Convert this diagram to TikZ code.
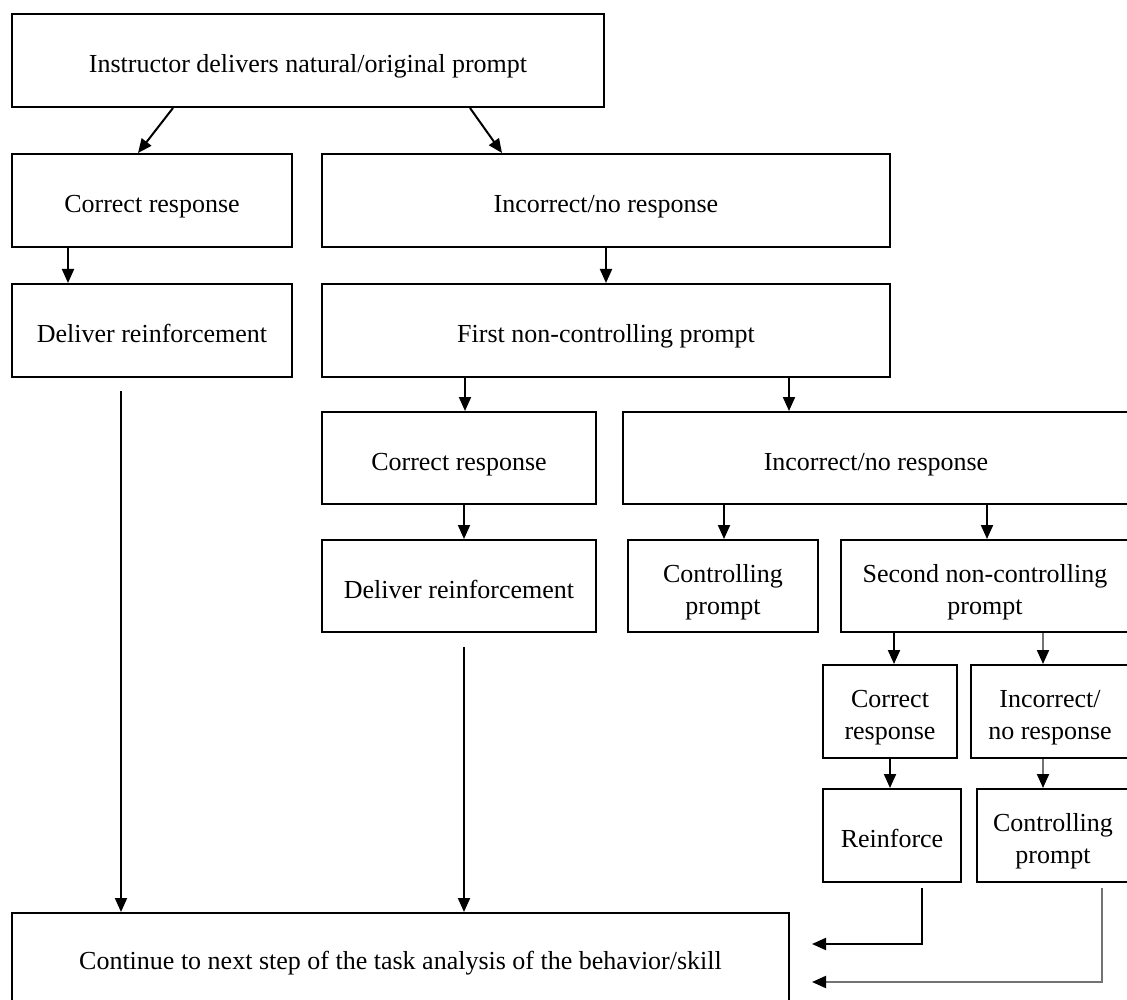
\documentclass[tikz,border=0pt]{standalone}
\usepackage{fontspec}
\setmainfont{Liberation Serif}
\usetikzlibrary{arrows.meta}
\newcommand{\bt}[1]{\raisebox{-6pt}[\height][\depth]{\begin{tabular}{@{}c@{}}#1\end{tabular}}}
\renewcommand{\arraystretch}{1}
\begin{document}
\begin{tikzpicture}[x=1pt,y=-1pt,
 box/.style={draw, line width=2pt, rectangle, inner sep=2pt, font=\fontsize{26}{32}\selectfont},
 arr/.style={line width=2pt, -{Triangle[length=14pt,width=12pt]}},
 garr/.style={line width=2pt, draw=black!55, -{Triangle[length=14pt,width=12pt,color=black]}},
]
\useasboundingbox (0,0) rectangle (1127,1000);
% level 1
\node[box, minimum width=592pt, minimum height=93pt] (top) at (308,60.5) {\bt{Instructor delivers natural/original prompt}};
% level 2
\node[box, minimum width=280pt, minimum height=93pt] (cr1) at (152,200.5) {\bt{Correct response}};
\node[box, minimum width=568pt, minimum height=93pt] (inc1) at (606,200.5) {\bt{Incorrect/no response}};
% level 3
\node[box, minimum width=280pt, minimum height=93pt] (dr1) at (152,330.5) {\bt{Deliver reinforcement}};
\node[box, minimum width=568pt, minimum height=93pt] (fnc) at (606,330.5) {\bt{First non-controlling prompt}};
% level 4
\node[box, minimum width=274pt, minimum height=92pt] (cr2) at (459,458) {\bt{Correct response}};
\node[box, minimum width=506pt, minimum height=92pt] (inc2) at (876,458) {\bt{Incorrect/no response}};
% level 5
\node[box, minimum width=274pt, minimum height=92pt] (dr2) at (459,586) {\bt{Deliver reinforcement}};
\node[box, minimum width=190pt, minimum height=92pt] (cp1) at (723,586) {\bt{Controlling\\prompt}};
\node[box, minimum width=288pt, minimum height=92pt] (snc) at (985,586) {\bt{Second non-controlling\\prompt}};
% level 6
\node[box, minimum width=134pt, minimum height=93pt] (cr3) at (890,711.5) {\bt{Correct\\response}};
\node[box, minimum width=158pt, minimum height=93pt] (inc3) at (1050,711.5) {\bt{Incorrect/\\no response}};
% level 7
\node[box, minimum width=138pt, minimum height=93pt] (rf) at (892,835.5) {\bt{Reinforce}};
\node[box, minimum width=152pt, minimum height=93pt] (cp2) at (1053,835.5) {\bt{Controlling\\prompt}};
% bottom
\node[box, minimum width=777pt, minimum height=88pt] (bot) at (400.5,957) {\bt{Continue to next step of the task analysis of the behavior/skill}};

% connectors
\draw[arr] ([xshift=-135pt]top.south) -- ([xshift=-14pt]cr1.north);
\draw[arr] ([xshift=162pt]top.south) -- ([xshift=-104pt]inc1.north);
\draw[arr] ([xshift=-84pt]cr1.south) -- ([xshift=-84pt]dr1.north);
\draw[arr] (inc1.south) -- (fnc.north);
\draw[arr] ([xshift=-141pt]fnc.south) -- ([xshift=6pt]cr2.north);
\draw[arr] ([xshift=183pt]fnc.south) -- ([xshift=-87pt]inc2.north);
\draw[arr] ([xshift=5pt]cr2.south) -- ([xshift=5pt]dr2.north);
\draw[arr] ([xshift=-152pt]inc2.south) -- ([xshift=1pt]cp1.north);
\draw[arr] ([xshift=111pt]inc2.south) -- ([xshift=2pt]snc.north);
\draw[arr] ([xshift=-91pt]snc.south) -- ([xshift=4pt]cr3.north);
\draw[garr] ([xshift=58pt]snc.south) -- ([xshift=-7pt]inc3.north);
\draw[arr] (cr3.south) -- ([xshift=-2pt]rf.north);
\draw[garr] ([xshift=-7pt]inc3.south) -- ([xshift=-10pt]cp2.north);
\draw[arr, shorten <=13pt] ([xshift=-31pt]dr1.south) -- ([xshift=-279.5pt]bot.north);
\draw[arr, shorten <=14pt] ([xshift=5pt]dr2.south) -- ([xshift=63.5pt]bot.north);
\draw[arr, shorten <=5pt] ([xshift=30pt]rf.south) |- ([xshift=22pt,yshift=13pt]bot.east);
\draw[garr, shorten <=5pt] ([xshift=49pt]cp2.south) |- ([xshift=22pt,yshift=-25pt]bot.east);
\end{tikzpicture}
\end{document}
